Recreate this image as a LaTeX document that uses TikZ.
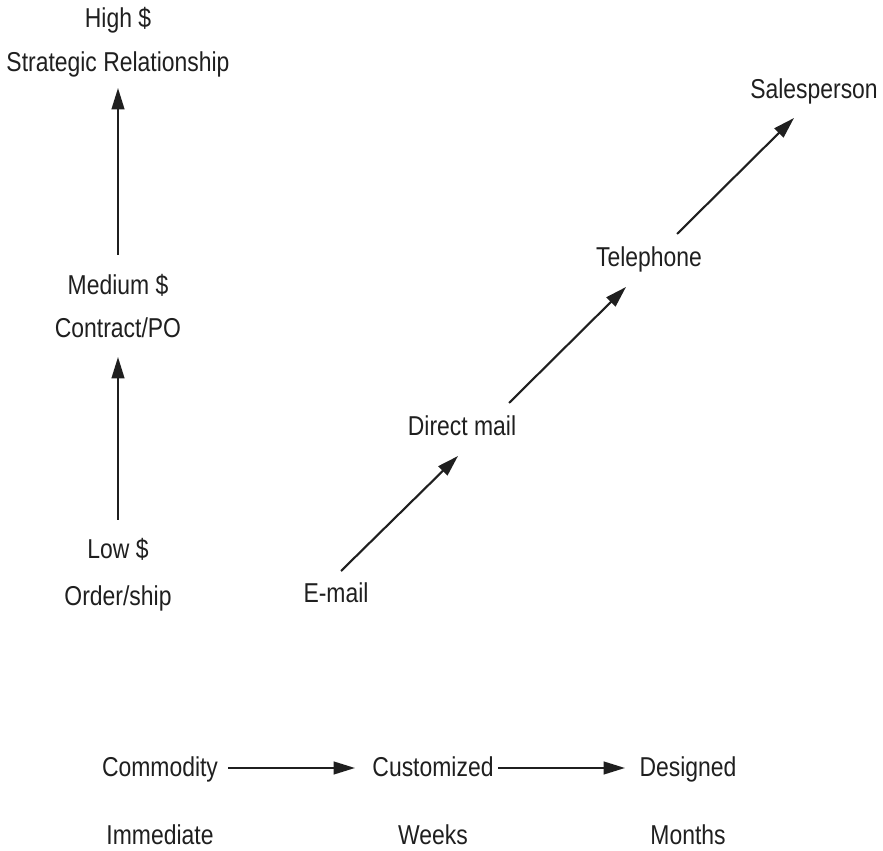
\documentclass[tikz,border=0pt]{standalone}
\usepackage{fontspec}
\setmainfont[FakeStretch=0.84]{Liberation Sans}
\usetikzlibrary{arrows.meta}

\begin{document}
\begin{tikzpicture}[x=0.03cm, y=-0.03cm,
        lbl/.style={anchor=base, inner sep=0pt, text=black!88,
                    font=\fontsize{23.3}{28}\selectfont},
        arr/.style={line width=1.8pt, draw=black!88,
                    -{Triangle[length=6.4mm, width=3.8mm]}}]

            \useasboundingbox (0, 0) rectangle (883, 851);

            % value ladder
            \node[lbl] (high) at (118, 28) {High \$};
            \node[lbl] (strategic) at (118, 72) {Strategic Relationship};
            \node[lbl] (medium) at (118, 295) {Medium \$};
            \node[lbl] (contract) at (118, 338) {Contract/PO};
            \node[lbl] (low) at (118, 559) {Low \$};
            \node[lbl] (order) at (118, 606) {Order/ship};

            % channels
            \node[lbl] (email) at (336, 603) {E-mail};
            \node[lbl] (direct) at (462, 436) {Direct mail};
            \node[lbl] (phone) at (649, 267) {Telephone};
            \node[lbl] (sales) at (814, 99) {Salesperson};

            % product / time
            \node[lbl] (commodity) at (160, 776) {Commodity};
            \node[lbl] (customized) at (433, 776) {Customized};
            \node[lbl] (designed) at (688, 776) {Designed};
            \node[lbl] (immediate) at (160, 844) {Immediate};
            \node[lbl] (weeks) at (433, 844) {Weeks};
            \node[lbl] (months) at (688, 844) {Months};

            \draw[arr] ([shift={(0,-39)}]low.base) to ([shift={(0,19)}]contract.base);
            \draw[arr] ([shift={(0,-40)}]medium.base) to ([shift={(0,16)}]strategic.base);

            \draw[arr] ([shift={(5,-32)}]email.base) to ([shift={(-4,20)}]direct.base);
            \draw[arr] ([shift={(47,-33)}]direct.base) to ([shift={(-23,20)}]phone.base);
            \draw[arr] ([shift={(28,-33)}]phone.base) to ([shift={(-20,19)}]sales.base);

            \draw[arr] ([shift={(68,-8)}]commodity.base) to ([shift={(-78,-8)}]customized.base);
            \draw[arr] ([shift={(65,-8)}]customized.base) to ([shift={(-63,-8)}]designed.base);
        \end{tikzpicture}
\end{document}
